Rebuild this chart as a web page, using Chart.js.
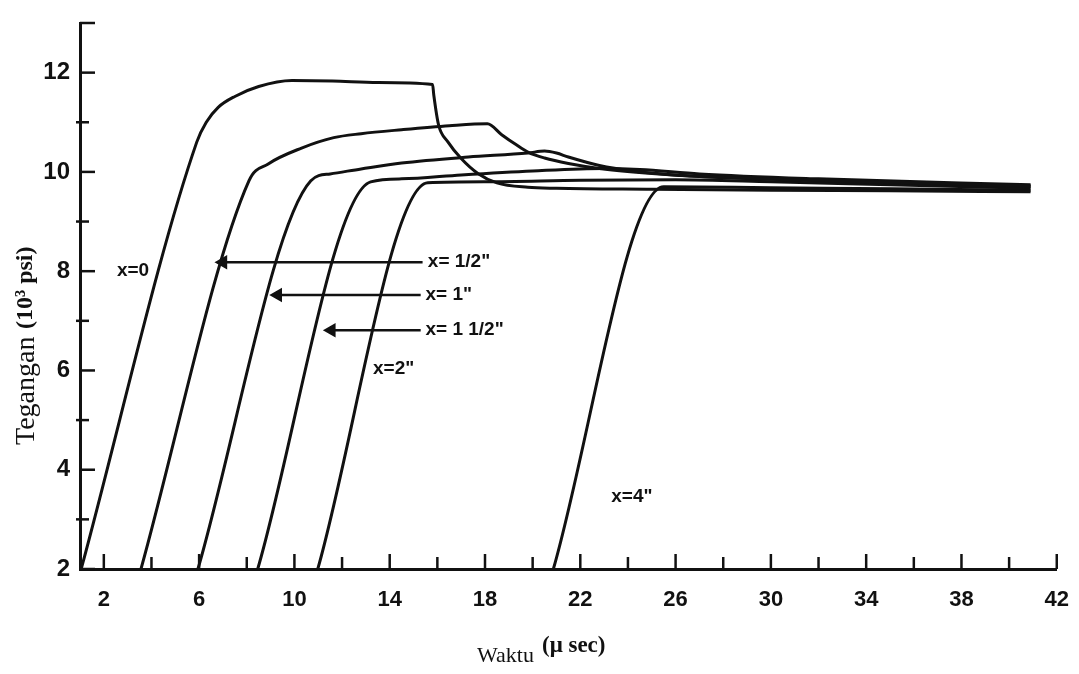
<!DOCTYPE html>
<html>
<head>
<meta charset="utf-8">
<script src="https://cdn.jsdelivr.net/npm/chart.js@4.4.1/dist/chart.umd.min.js"></script>
<style>
  html, body { margin: 0; padding: 0; background: #fff; }
  #wrap { width: 1079px; height: 674px; }
</style>
</head>
<body>
<div id="wrap"><canvas id="chart" width="1079" height="674"></canvas></div>
<script>
// Tegangan (10^3 psi) terhadap waktu (mikrodetik) pada beberapa jarak x

// x = 0
const t0 = [1.05, 5.9, 6.3, 6.8, 7.5, 8.5, 9.9, 11.6, 13.5, 15.8, 15.85, 16.05, 16.45, 17.0, 17.7, 18.5, 19.8, 21, 25, 30, 35, 40.9];
const s0 = [2.0, 10.6, 11.0, 11.3, 11.52, 11.72, 11.84, 11.83, 11.8, 11.76, 11.55, 10.95, 10.6, 10.27, 9.97, 9.78, 9.69, 9.67, 9.65, 9.63, 9.62, 9.6];
// x = 1/2"
const t1 = [3.56, 8.09, 8.9, 10.3, 11.65, 12.8, 14.5, 16.5, 18.1, 18.7, 19.3, 19.8, 20.5, 21.5, 22.8, 25.6, 28.4, 31.2, 36, 40.9];
const s1 = [2.0, 9.82, 10.16, 10.48, 10.69, 10.77, 10.85, 10.93, 10.97, 10.75, 10.55, 10.4, 10.28, 10.17, 10.07, 9.95, 9.88, 9.84, 9.78, 9.72];
// x = 1"
const t2 = [5.95, 10.69, 11.5, 12.8, 14.5, 17.3, 19.8, 20.5, 21.0, 21.5, 22.8, 24.2, 26.3, 30, 35, 40.9];
const s2 = [2.0, 9.82, 9.96, 10.06, 10.18, 10.3, 10.38, 10.42, 10.38, 10.3, 10.13, 10.02, 9.93, 9.85, 9.78, 9.7];
// x = 1 1/2"
const t3 = [8.46, 13.2, 14.5, 17, 20, 23, 24.5, 27, 32, 40.9];
const s3 = [2.0, 9.8, 9.86, 9.94, 10.02, 10.07, 10.05, 9.96, 9.86, 9.74];
// x = 2"
const t4 = [10.98, 15.6, 18, 22, 26, 30, 35, 40.9];
const s4 = [2.0, 9.78, 9.8, 9.83, 9.84, 9.8, 9.74, 9.67];
// x = 4"
const t5 = [20.87, 25.5, 30, 35, 40.9];
const s5 = [2.0, 9.7, 9.68, 9.66, 9.63];

// panah penunjuk kurva
const arrowFrom = [7.0, 9.3, 11.55];
const arrowTo = [15.38, 15.3, 15.3];
const arrowY = [8.18, 7.52, 6.81];

// teks keterangan kurva
const noteText = ['x=0', 'x= 1/2"', 'x= 1"', 'x= 1 1/2"', 'x=2"', 'x=4"'];
const noteX = [2.55, 15.6, 15.5, 15.5, 13.3, 23.3];
const noteY = [8.0, 8.18, 7.52, 6.81, 6.04, 3.45];

// sumbu
const xTickValues = [2, 4, 6, 8, 10, 12, 14, 16, 18, 20, 22, 24, 26, 28, 30, 32, 34, 36, 38, 40, 42];
const xTickLabels = [2, 6, 10, 14, 18, 22, 26, 30, 34, 38, 42];
const yTickValues = [2, 3, 4, 5, 6, 7, 8, 9, 10, 11, 12, 13];
const yTickLabels = [2, 4, 6, 8, 10, 12];

const zip = (xs, ys) => xs.map((v, i) => ({ x: v, y: ys[i] }));
const curves = [[t0, s0], [t1, s1], [t2, s2], [t3, s3], [t4, s4], [t5, s5]];

const datasets = curves.map(([xs, ys]) => ({
  data: zip(xs, ys),
  borderColor: '#111',
  borderWidth: 3,
  pointRadius: 0,
  cubicInterpolationMode: 'monotone',
  fill: false,
}));

arrowY.forEach((y, i) => {
  datasets.push({
    data: [{ x: arrowFrom[i], y }, { x: arrowTo[i], y }],
    borderColor: '#111',
    borderWidth: 2.5,
    pointStyle: 'triangle',
    pointRotation: 270,
    pointRadius: [6, 0],
    pointBackgroundColor: '#111',
    pointBorderColor: '#111',
    tension: 0,
  });
});

const SERIF = '"Liberation Serif", "DejaVu Serif", serif';
const SANS = '"Liberation Sans", Arial, sans-serif';

// garis skala ke arah dalam + teks keterangan + judul sumbu
const decorPlugin = {
  id: 'decor',
  afterDatasetsDraw(chart) {
    const { ctx, scales: { x, y } } = chart;
    const x0 = x.left, y0 = y.bottom;
    ctx.save();
    ctx.strokeStyle = '#111';
    ctx.lineWidth = 2.5;
    xTickValues.forEach((v) => {
      const px = x.getPixelForValue(v);
      const len = xTickLabels.includes(v) ? 15 : 12;
      ctx.beginPath();
      ctx.moveTo(px, y0);
      ctx.lineTo(px, y0 - len);
      ctx.stroke();
    });
    yTickValues.forEach((v) => {
      const py = y.getPixelForValue(v);
      const major = yTickLabels.includes(v) || v === 13;
      ctx.beginPath();
      ctx.moveTo(major ? x0 : x0 - 4, py);
      ctx.lineTo(x0 + (major ? 15 : 9), py);
      ctx.stroke();
    });

    ctx.fillStyle = '#111';
    ctx.font = 'bold 19px ' + SANS;
    ctx.textBaseline = 'middle';
    ctx.textAlign = 'left';
    noteText.forEach((t, i) => {
      ctx.fillText(t, x.getPixelForValue(noteX[i]), y.getPixelForValue(noteY[i]));
    });

    // judul sumbu x
    ctx.textBaseline = 'alphabetic';
    ctx.font = '22px ' + SERIF;
    ctx.fillText('Waktu', 477, 662);
    ctx.font = 'bold 23px ' + SERIF;
    ctx.fillText('(μ sec)', 542, 652);

    // judul sumbu y
    ctx.translate(34, 445);
    ctx.rotate(-Math.PI / 2);
    ctx.font = '28px ' + SERIF;
    ctx.fillText('Tegangan', 0, 0);
    ctx.font = 'bold 24px ' + SERIF;
    ctx.fillText('(10³ psi)', 116, -2);
    ctx.restore();
  },
};

new Chart(document.getElementById('chart'), {
  type: 'line',
  data: { datasets },
  plugins: [decorPlugin],
  options: {
    responsive: false,
    animation: false,
    devicePixelRatio: 1,
    layout: { padding: { left: 0, right: 22, top: 23, bottom: 0 } },
    plugins: { legend: { display: false }, tooltip: { enabled: false } },
    scales: {
      x: {
        type: 'linear',
        min: 1,
        max: 42,
        grid: { display: false },
        border: { display: true, color: '#111', width: 3 },
        afterFit: (s) => { s.height = 105; },
        afterBuildTicks: (s) => { s.ticks = xTickLabels.map((v) => ({ value: v })); },
        ticks: {
          padding: 10,
          color: '#111',
          font: { family: SANS, size: 22, weight: 'bold' },
          maxRotation: 0,
          autoSkip: false,
        },
      },
      y: {
        type: 'linear',
        min: 2,
        max: 13,
        grid: { display: false },
        border: { display: true, color: '#111', width: 3 },
        afterFit: (s) => { s.width = 80; },
        afterBuildTicks: (s) => { s.ticks = yTickLabels.map((v) => ({ value: v })); },
        ticks: {
          padding: 2,
          color: '#111',
          font: { family: SANS, size: 24, weight: 'bold' },
        },
      },
    },
  },
});
</script>
</body>
</html>
